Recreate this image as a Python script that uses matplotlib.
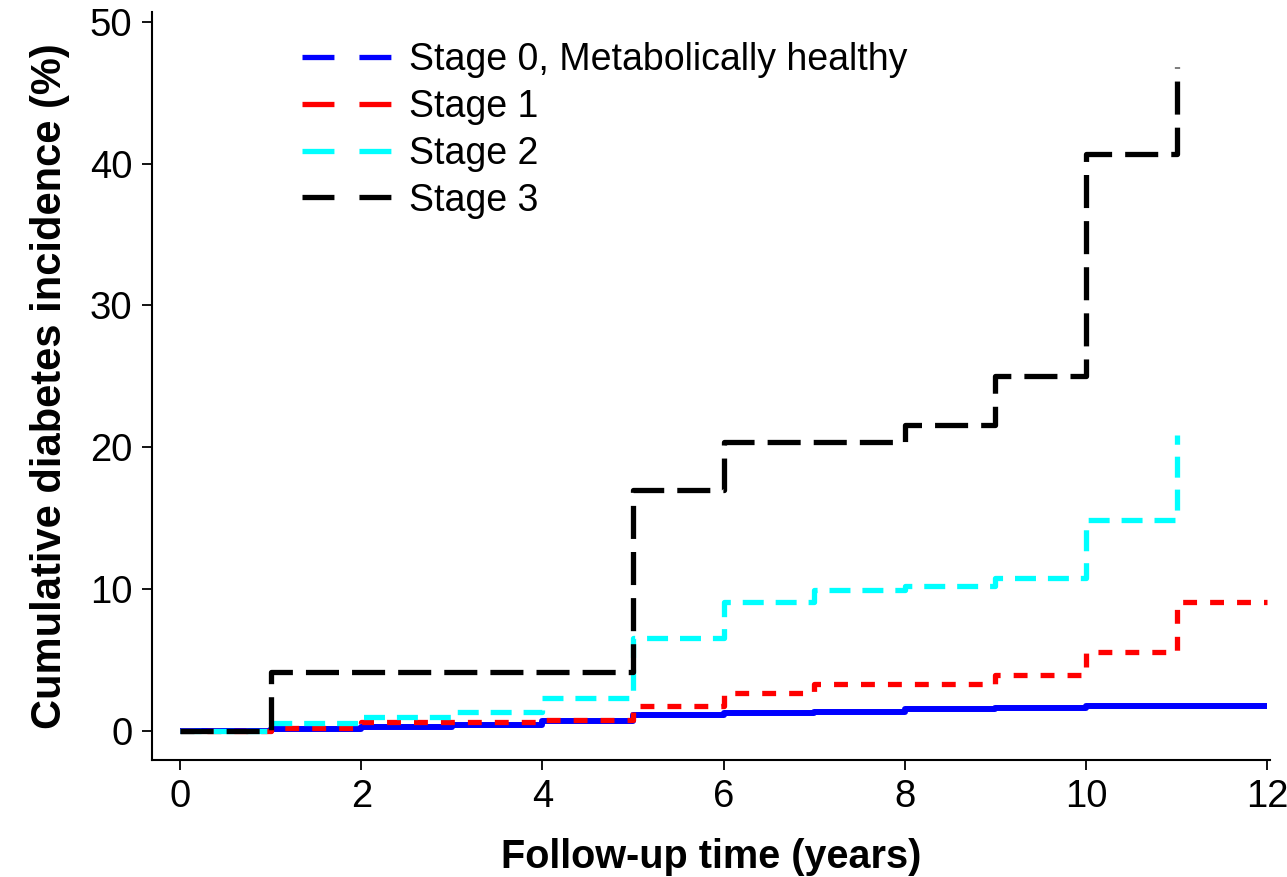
import matplotlib
matplotlib.use("Agg")
import matplotlib.pyplot as plt
from matplotlib.lines import Line2D

plt.rcParams['font.family'] = ['Liberation Sans', 'DejaVu Sans']
plt.rcParams['lines.scale_dashes'] = False

years = [0, 1, 2, 3, 4, 5, 6, 7, 8, 9, 10, 11, 12]
stage0 = [0, 0.12, 0.28, 0.40, 0.72, 1.13, 1.25, 1.36, 1.53, 1.64, 1.78, 1.78, 1.78]
stage1 = [0, 0.24, 0.66, 0.66, 0.78, 1.76, 2.66, 3.31, 3.31, 3.95, 5.57, 9.07, 9.07]
stage2 = [0, 0.59, 1.01, 1.34, 2.30, 6.58, 9.07, 9.94, 10.2, 10.8, 14.9, 20.9]
stage3 = [0, 4.16, 4.16, 4.16, 4.16, 17.0, 20.4, 20.4, 21.6, 25.0, 40.7, 46.8]

labels = ["Stage 0, Metabolically healthy", "Stage 1", "Stage 2", "Stage 3"]
colors = ["#0000ff", "#ff0000", "#00ffff", "#000000"]

fig = plt.figure(figsize=(12.87, 8.77), dpi=100)
ax = fig.add_axes([0.1181, 0.1334, 0.8687, 0.853])

lw = 3.8
ax.plot(years[:len(stage0)], stage0, drawstyle='steps-post', color=colors[0], lw=4.3,
        solid_capstyle='butt')
ax.plot(years[:len(stage1)], stage1, drawstyle='steps-post', color=colors[1], lw=lw,
        dashes=(10, 9.4))
ax.plot(years[:len(stage2)], stage2, drawstyle='steps-post', color=colors[2], lw=lw,
        dashes=(15.1, 8.6))
ax.plot(years[:len(stage3)], stage3, drawstyle='steps-post', color=colors[3], lw=lw,
        dashes=(23.8, 9.4))

ax.set_xlim(-0.31, 12.03)
ax.set_ylim(-2.05, 50.7)
ax.set_xticks([0, 2, 4, 6, 8, 10, 12])
ax.set_yticks([0, 10, 20, 30, 40, 50])
ax.spines['top'].set_visible(False)
ax.spines['right'].set_visible(False)
for s in ['left', 'bottom']:
    ax.spines[s].set_linewidth(1.5)
ax.tick_params(direction='out', length=7, width=1.3, labelsize=27.5, pad=7)

ax.set_xlabel("Follow-up time (years)", fontsize=28.5, fontweight='bold', labelpad=16)
ax.set_ylabel("Cumulative diabetes incidence (%)", fontsize=30, fontweight='bold', labelpad=14)

handles = [Line2D([0], [0], color=c, lw=lw, dashes=(23, 18)) for c in colors]
ax.legend(handles, labels, loc='upper left', bbox_to_anchor=(0.104, 1.005), frameon=False,
          fontsize=27, handlelength=2.4, handletextpad=0.45, labelspacing=0.29)

fig.savefig("out.png", dpi=100)
